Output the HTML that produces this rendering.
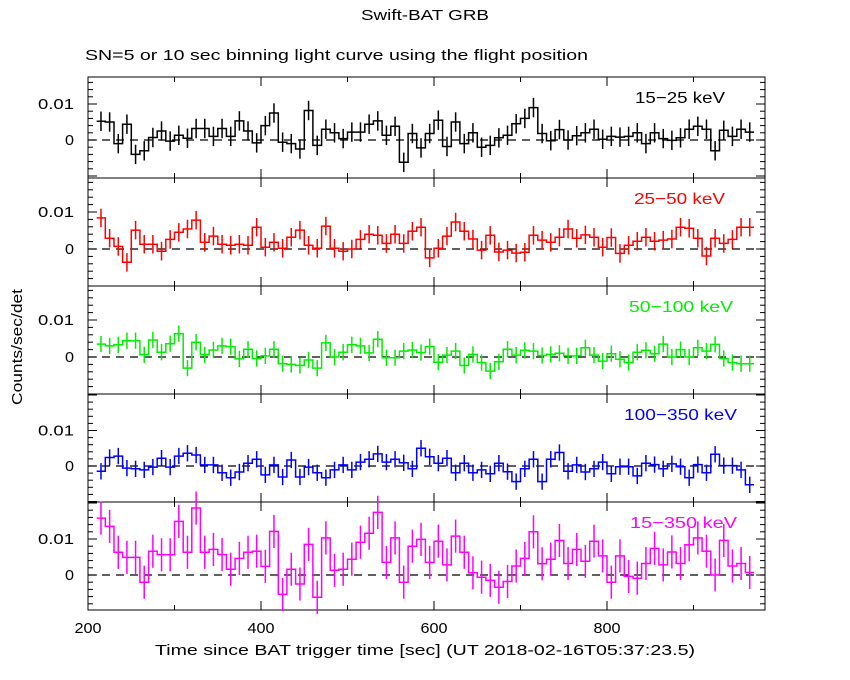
<!DOCTYPE html>
<html><head><meta charset="utf-8"><style>
html,body{margin:0;padding:0;background:#fff;}
svg{display:block;font-family:"Liberation Sans",sans-serif;}
</style></head><body>
<svg id="chart" width="850" height="680" viewBox="0 0 850 680" xmlns="http://www.w3.org/2000/svg">
<rect width="850" height="680" fill="#fff"/>
<text x="425" y="20" text-anchor="middle" font-size="15" textLength="128" lengthAdjust="spacingAndGlyphs">Swift-BAT GRB</text>
<text x="85" y="60" font-size="15" textLength="503" lengthAdjust="spacingAndGlyphs">SN=5 or 10 sec binning light curve using the flight position</text>
<text x="0" y="0" font-size="15" text-anchor="middle" textLength="116" lengthAdjust="spacingAndGlyphs" transform="translate(22,347) rotate(-90)">Counts/sec/det</text>
<text x="425" y="655" font-size="15" text-anchor="middle" textLength="540" lengthAdjust="spacingAndGlyphs">Time since BAT trigger time [sec] (UT 2018-02-16T05:37:23.5)</text>
<g id="plots"></g>
</svg>
<script>
const binStart = 210;
const binWidth = 10;
const xTickLabels = [200, 400, 600, 800];
const bandLabels = ["15\u221225 keV", "25\u221250 keV", "50\u2212100 keV", "100\u2212350 keV", "15\u2212350 keV"];
const bandColors = ["#000000", "#ff0000", "#00ee00", "#0000ff", "#ff00ff"];
const bandErrors = [0.0027, 0.0025, 0.0022, 0.0023, 0.0046];
const rates15_25 = [0.0052,0.005,-0.001,0.0044,-0.004,-0.003,0.0007,0.0025,-0.0003,0.0013,0.0005,0.0032,0.0032,0.001,0.0032,0.001,0.0053,0.0025,-0.0008,0.004,0.0075,-0.0006,-0.001,-0.0025,0.0082,-0.0015,0.003,0.002,0.0004,0.0022,0.0022,0.0044,0.0053,0.0013,0.0038,-0.0062,0.0018,-0.0022,
0.0018,0.0055,-0.0018,0.005,-0.001,0.002,-0.002,-0.0015,0.0006,0.0013,0.0045,0.006,0.009,0.0018,-0.0002,0.0029,0,0.0012,0.002,0.003,0.0002,0.001,0.0008,0.001,0.002,-0.001,0.002,0.0004,-0.0001,0.0006,0.003,0.0038,0.003,-0.003,0.0027,0.001,0.003,0.0022];
const rates25_50 = [0.0084,0.0029,0.0007,-0.0036,0.0051,0.0013,0.0013,-0.0006,0.0026,0.0045,0.0054,0.0078,0.0018,0.0035,0.0013,0.001,0.0013,0.001,0.0059,0.0005,0.0018,0.0002,0.0032,0.0051,0.001,0.0002,0.0062,0.0002,-0.0006,0,0.0026,0.004,0.0037,0.0015,0.004,0.0015,0.0048,0.0059,
-0.0024,0.0002,0.0035,0.0073,0.0048,0.0027,-0.0003,0.0037,-0.0008,-0.0003,-0.0011,-0.0009,0.0037,0.0024,0.0018,0.0032,0.0054,0.0029,0.0038,0.0032,0.0005,0.0031,-0.0012,0.001,0.0021,0.0032,0.0021,0.0024,0.0027,0.0059,0.0056,0.0029,-0.0019,0.0029,0.0015,0.0026,0.0059,0.0059];
const rates50_100 = [0.0035,0.003,0.0033,0.0044,0.0044,0.0006,0.0046,0.0013,0.0036,0.0063,-0.003,0.004,0.0006,0.0019,0.003,0.0028,-0.0005,0.0021,-0.0004,0.0003,0.0021,-0.0018,-0.002,-0.0023,-0.0008,-0.003,0.0038,0,0.0013,0.0033,0.003,0.0011,0.0048,-0.0002,-0.0002,0.0016,0.0019,0.0012,
0.0028,-0.0014,0.0005,0.0016,-0.0023,0.0007,-0.0015,-0.0038,-0.0013,0.0021,0.0005,0.0018,0.0016,0.0004,0.0007,0.001,0.0003,0.0003,0.0025,0.0005,-0.0011,0.0009,-0.0006,-0.0015,0.0013,0.0018,0.0009,0.0035,0,0.002,0,0.0025,0.0016,0.0034,-0.0004,-0.0015,-0.0018,-0.0018];
const rates100_350 = [-0.0015,0.0024,0.0028,-0.0006,-0.0008,-0.0011,-0.0003,0.0022,-0.0003,0.0028,0.0036,0.0031,0.0003,0.0003,-0.0019,-0.0033,-0.0017,0.0008,0.0019,-0.0025,0.0003,-0.0031,0.0017,-0.0031,-0.0003,-0.0019,-0.0033,-0.0011,0.0003,-0.0011,0.0011,0.0019,0.0034,0.0011,0.0019,0.0009,-0.0008,0.005,
0.0026,0.0008,0.0022,-0.0019,0.0008,-0.0019,-0.0011,-0.0022,0.0008,-0.0016,-0.0044,-0.0008,0.0019,-0.0044,0.0019,0.0038,-0.0015,0.0003,-0.0017,-0.0008,0.0011,-0.0022,-0.0002,-0.0002,-0.0028,0.0008,0.0004,-0.0008,0.0006,-0.0002,-0.0033,0.0004,-0.0019,0.0033,0.0001,0.0001,-0.0011,-0.0053];
const rates15_350 = [0.0158,0.0135,0.0063,0.0049,0.0049,-0.002,0.0066,0.0056,0.0056,0.0149,0.0063,0.0186,0.0063,0.0071,0.0057,0.0016,0.0046,0.0063,0.0066,0.0024,0.0121,-0.0054,0.0016,-0.0025,0.0085,-0.0062,0.0103,0.0013,0.0016,0.0044,0.0091,0.0116,0.0174,0.0035,0.0103,-0.002,0.008,0.0099,
0.0035,0.0094,0.0028,0.0108,0.0063,0.0006,-0.0006,-0.0015,-0.0034,-0.0018,0.0025,0.0046,0.012,0.0031,0.0044,0.0096,0.0032,0.0071,0.0038,0.0094,0.0053,-0.002,0.0053,-0.0004,-0.0009,0.0032,0.0074,0.0028,0.0064,0.0032,0.0084,0.0103,0.0066,0,0.0096,0.0025,0.0032,0.0007];
const allRates = [rates15_25, rates25_50, rates50_100, rates100_350, rates15_350];

const NS = "http://www.w3.org/2000/svg";
const X0 = 88, X1 = 765;
const panelTops = [77, 178, 286, 394, 502, 610];
const zeroPix = [140, 249, 357, 466, 575];
const pxPerUnit = [3600, 3700, 3700, 3550, 3600];
const labelRight = [725, 725, 733, 737, 737];
const labelWidth = [90, 91, 104, 113, 107];
function xScale(t){ return X0 + (t - 200) * 0.865; }
function mk(tag, attrs, parent){
  const e = document.createElementNS(NS, tag);
  for (const k in attrs) e.setAttribute(k, attrs[k]);
  parent.appendChild(e);
  return e;
}
const root = document.getElementById('plots');
for (let p = 0; p < 5; p++){
  const g = mk('g', {}, root);
  
  
  const top = panelTops[p], bot = panelTops[p+1];
  const yS = v => zeroPix[p] - v * pxPerUnit[p];
  const fr = mk('rect', {x:X0, y:top, width:X1-X0, height:bot-top, fill:'none', stroke:'#000', 'stroke-width':1}, g);
  
  
  const yMin = (zeroPix[p]-bot)/pxPerUnit[p], yMax = (zeroPix[p]-top)/pxPerUnit[p];
  for (let k = -10; k <= 10; k++){
    const v = k*0.002;
    if (v < yMin || v > yMax) continue;
    const y = yS(v);
    const major = (k % 5 === 0);
    const len = major ? 9 : 5;
    mk('line', {x1:X0, x2:X0+len, y1:y, y2:y, stroke:'#000'}, g);
    mk('line', {x1:X1, x2:X1-len, y1:y, y2:y, stroke:'#000'}, g);
  }
  for (const [v, lab, w] of [[0,'0',9],[0.01,'0.01',36]]){
    const t = mk('text', {x:X0-14, y:yS(v)+5, 'font-size':15, 'text-anchor':'end', textLength:w, lengthAdjust:'spacingAndGlyphs'}, g);
    t.textContent = lab;
    
    
  }
  for (let t = 200; t <= 980; t += 100){
    const x = xScale(t);
    const len = (t % 200 === 0) ? 9 : 5;
    mk('line', {x1:x, x2:x, y1:bot, y2:bot-len, stroke:'#000'}, g);
    mk('line', {x1:x, x2:x, y1:top, y2:top+len, stroke:'#000'}, g);
  }
  mk('line', {x1:X0, x2:X1, y1:yS(0), y2:yS(0), stroke:'#000', 'stroke-dasharray':'8,6', 'stroke-width':1.3}, g);
  const rates = allRates[p];
  let d = '';
  rates.forEach((v, i) => {
    const xa = xScale(binStart + i*binWidth), xb = xScale(binStart + (i+1)*binWidth);
    const y = yS(v);
    d += (i === 0 ? 'M' : 'L') + xa.toFixed(1) + ' ' + y.toFixed(1) + ' L' + xb.toFixed(1) + ' ' + y.toFixed(1) + ' ';
  });
  const path = mk('path', {d:d, fill:'none', stroke:bandColors[p], 'stroke-width':1.5}, g);
  
  
  rates.forEach((v, i) => {
    const xm = xScale(binStart + (i+0.5)*binWidth);
    const e = mk('line', {x1:xm, x2:xm, y1:yS(v-bandErrors[p]), y2:yS(v+bandErrors[p]), stroke:bandColors[p], 'stroke-width':1.5}, g);
    
    
  });
  const lt = mk('text', {x:labelRight[p], y:top+26, 'font-size':16, 'text-anchor':'end', fill:bandColors[p], textLength:labelWidth[p], lengthAdjust:'spacingAndGlyphs'}, g);
  lt.textContent = bandLabels[p];
  
  
}
xTickLabels.forEach(t => {
  const tx = mk('text', {x:xScale(t), y:633, 'font-size':15, 'text-anchor':'middle', textLength:27, lengthAdjust:'spacingAndGlyphs'}, root);
  tx.textContent = t;
  
  
});
</script>
</body></html>
